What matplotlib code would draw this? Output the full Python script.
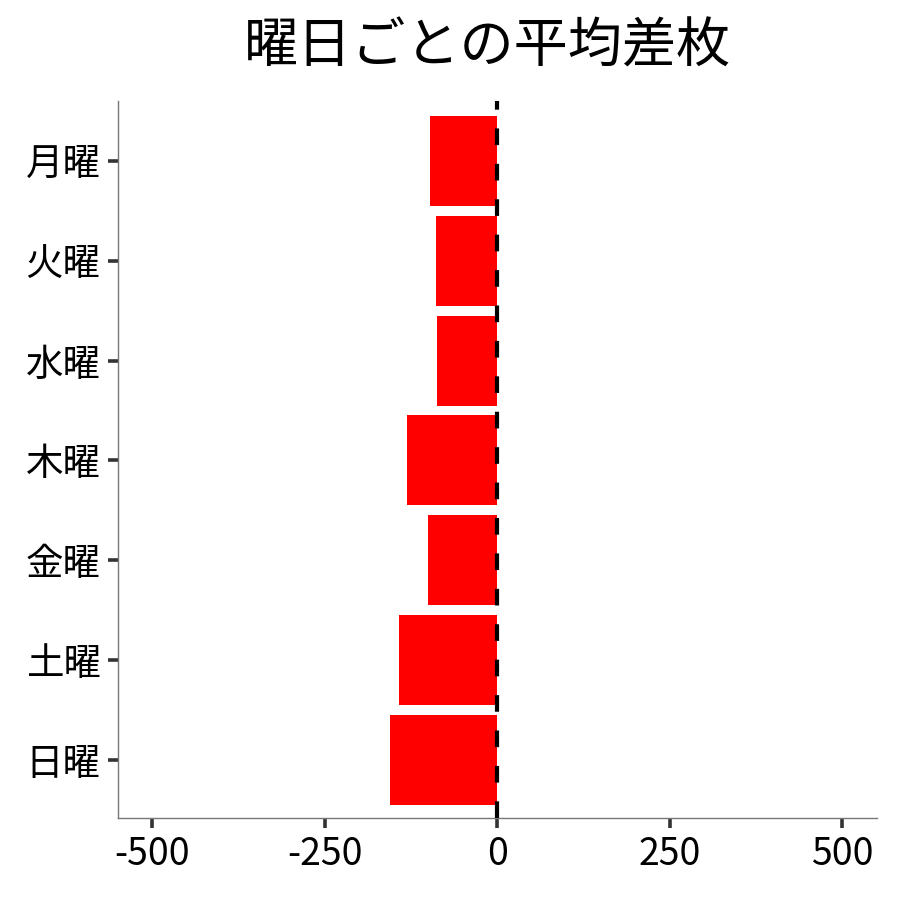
import matplotlib
matplotlib.use("Agg")
import matplotlib.pyplot as plt

plt.rcParams['font.family'] = ['Noto Sans CJK JP', 'DejaVu Sans']

days = ['月曜', '火曜', '水曜', '木曜', '金曜', '土曜', '日曜']
avg_diff = [-97, -89, -87, -131, -100, -142, -156]
xticks = [-500, -250, 0, 250, 500]
title = '曜日ごとの平均差枚'

fig = plt.figure(figsize=(9, 9), dpi=100)
ax = fig.add_axes([0.131, 0.091, 0.843, 0.797])

ypos = list(range(len(days)))
ax.barh(ypos, avg_diff, height=0.9, color='#ff0000', zorder=2)
ax.axvline(0, color='black', lw=3, dashes=(4, 4.5), zorder=3)

ax.set_xlim(-550, 550)
ax.set_ylim(len(days) - 0.42, -0.6)
ax.set_yticks(ypos)
ax.set_yticklabels(days)
ax.set_xticks(xticks)
ax.set_xticklabels([str(v) for v in xticks])

for s in ['top', 'right']:
    ax.spines[s].set_visible(False)
for s in ['left', 'bottom']:
    ax.spines[s].set_color('#777777')
    ax.spines[s].set_linewidth(1)

ax.tick_params(axis='both', length=7.5, width=2.6, color='#333333',
               labelsize=27, labelcolor='black', pad=5)

fig.text(0.542, 0.948, title, ha='center', va='center', fontsize=39)

fig.savefig('out.png', dpi=100, facecolor='white')
